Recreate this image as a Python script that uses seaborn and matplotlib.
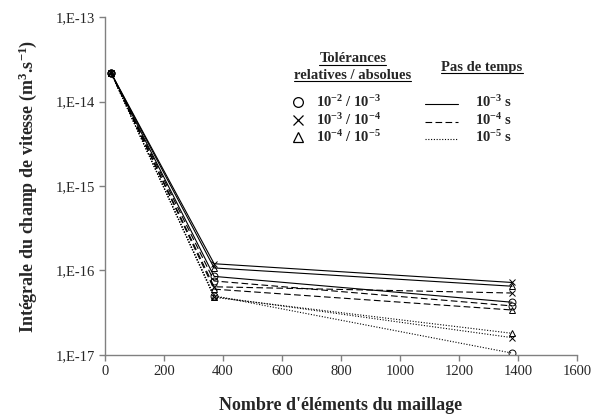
import numpy as np
import pandas as pd
import seaborn as sns
import matplotlib.pyplot as plt
from matplotlib.lines import Line2D
from matplotlib.ticker import FixedLocator, FuncFormatter, NullLocator

# Données
nb_elements = [20, 370, 1380]
tolerances = ['10$^{-2}$ / 10$^{-3}$', '10$^{-3}$ / 10$^{-4}$', '10$^{-4}$ / 10$^{-5}$']
pas_temps = ['10$^{-3}$ s', '10$^{-4}$ s', '10$^{-5}$ s']

# pas 1e-3 (trait plein)
p3_tol2 = [2.2e-14, 8.5e-17, 4.2e-17]
p3_tol3 = [2.2e-14, 1.2e-16, 7.2e-17]
p3_tol4 = [2.2e-14, 1.07e-16, 6.5e-17]
# pas 1e-4 (tirets)
p4_tol2 = [2.2e-14, 7.5e-17, 3.8e-17]
p4_tol3 = [2.2e-14, 6.4e-17, 5.4e-17]
p4_tol4 = [2.2e-14, 6.0e-17, 3.4e-17]
# pas 1e-5 (pointillés)
p5_tol2 = [2.2e-14, 5.0e-17, 1.05e-17]
p5_tol3 = [2.2e-14, 4.9e-17, 1.6e-17]
p5_tol4 = [2.2e-14, 4.8e-17, 1.8e-17]

series = {
    (0, 0): p3_tol2, (0, 1): p3_tol3, (0, 2): p3_tol4,
    (1, 0): p4_tol2, (1, 1): p4_tol3, (1, 2): p4_tol4,
    (2, 0): p5_tol2, (2, 1): p5_tol3, (2, 2): p5_tol4,
}

marqueurs = ['o', 'x', '^']
tirets = [(None, None), (6, 3), (1, 1.5)]

sns.set_style('white')
plt.rcParams['font.family'] = ['Liberation Serif', 'DejaVu Serif']
plt.rcParams['mathtext.default'] = 'regular'

fig, ax = plt.subplots(figsize=(6.01, 4.17), dpi=100)
fig.subplots_adjust(left=0.1747, right=0.960, top=0.959, bottom=0.149)

for (ip, it), vals in series.items():
    d = pd.DataFrame({'n': nb_elements, 'v': vals})
    kw = dict(ls='-') if ip == 0 else dict(dashes=tirets[ip])
    sns.lineplot(data=d, x='n', y='v', color='black', lw=0.8, marker=marqueurs[it],
                 ms=5, markeredgecolor='black', markerfacecolor='none',
                 markeredgewidth=0.7, ax=ax, **kw)

ax.set_yscale('log')
ax.set_xlim(0, 1600)
ax.set_ylim(1e-17, 1e-13)
ax.set_xticks(range(0, 1601, 200))
ax.yaxis.set_major_locator(FixedLocator([1e-17, 1e-16, 1e-15, 1e-14, 1e-13]))
ax.yaxis.set_minor_locator(NullLocator())
ax.yaxis.set_major_formatter(FuncFormatter(lambda v, _: f'1,E{int(round(np.log10(v)))}'))

for s in ['top', 'right']:
    ax.spines[s].set_visible(False)
for s in ['left', 'bottom']:
    ax.spines[s].set_color('#808080')
    ax.spines[s].set_linewidth(1)
ax.tick_params(axis='both', which='major', direction='out', length=4, width=1,
               color='#808080', labelsize=10.5, left=True, bottom=True, pad=3)

ax.set_xlabel("Nombre d'éléments du maillage", fontsize=13, fontweight='bold', labelpad=14)
ax.set_ylabel('Intégrale du champ de vitesse (m$^{3}$.s$^{-1}$)', fontsize=13,
              fontweight='bold', labelpad=12)

# Légende faite à la main
titres = [
    ax.text(0.525, 0.876, 'Tolérances', transform=ax.transAxes, ha='center', va='center',
            fontsize=10.5, fontweight='bold'),
    ax.text(0.525, 0.828, 'relatives / absolues', transform=ax.transAxes, ha='center',
            va='center', fontsize=10.5, fontweight='bold'),
    ax.text(0.799, 0.852, 'Pas de temps', transform=ax.transAxes, ha='center', va='center',
            fontsize=10.5, fontweight='bold'),
]
y_rows = [0.749, 0.695, 0.645]
for i in range(3):
    ax.add_line(Line2D([0.409], [y_rows[i]], transform=ax.transAxes, marker=marqueurs[i],
                       ms=7, mfc='none', mec='black', mew=0.9, ls='none'))
    ax.text(0.447, y_rows[i], tolerances[i], transform=ax.transAxes, va='center',
            fontsize=10.5, fontweight='bold')
    lkw = dict(ls='-') if i == 0 else dict(dashes=tirets[i])
    ax.add_line(Line2D([0.678, 0.748], [y_rows[i] - 0.006] * 2, transform=ax.transAxes,
                       color='black', lw=0.8, **lkw))
    ax.text(0.784, y_rows[i], pas_temps[i], transform=ax.transAxes, va='center',
            fontsize=10.5, fontweight='bold')

fig.canvas.draw()
inv = ax.transAxes.inverted()
for t in titres:
    bb = t.get_window_extent()
    (x0, y0), (x1, _) = inv.transform([(bb.x0, bb.y0), (bb.x1, bb.y0)])
    ax.add_line(Line2D([x0, x1], [y0 + 0.002] * 2, transform=ax.transAxes,
                       color='black', lw=0.8))

plt.savefig('out.png', dpi=100)
plt.close()
